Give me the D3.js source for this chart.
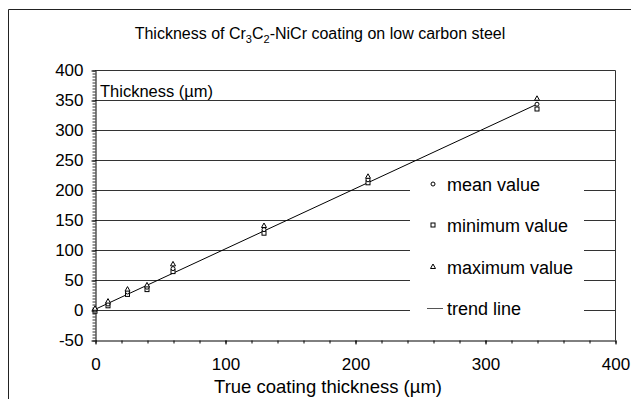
<!DOCTYPE html>
<html><head><meta charset="utf-8">
<script src="https://cdn.jsdelivr.net/npm/d3@7"></script>
<style>body{margin:0;background:#fff}svg{display:block}text{font-family:"Liberation Sans",Arial,sans-serif;fill:#000}</style>
</head><body>
<svg id="c" width="640" height="399"></svg>
<script>
const xTrue = [0, 10, 25, 40, 60, 130, 210, 340];
const meanVals = [0, 10, 30, 38, 69, 134, 217, 343];
const minVals = [-2, 7, 26, 34, 64, 128, 212, 335];
const maxVals = [2, 14, 34, 41, 76, 140, 222, 352];
const trendX = [0, 340];
const trendY = [1, 343];
const xTicks = [0, 100, 200, 300, 400];
const yTicks = [-50, 0, 50, 100, 150, 200, 250, 300, 350, 400];
const legendLabels = ["mean value", "minimum value", "maximum value", "trend line"];

const svg = d3.select("#c");
const x = d3.scaleLinear().domain([0, 400]).range([95, 615]);
const y = d3.scaleLinear().domain([-50, 400]).range([340, 70]);

// outer frame (top and left)
svg.append("path").attr("d", "M8.5,399 V9.5 H631").attr("fill", "none").attr("stroke", "#222").attr("stroke-width", 1);

// title
const t = svg.append("text").attr("x", 320).attr("y", 39).attr("text-anchor", "middle").style("font-size", "16px");
t.append("tspan").text("Thickness of Cr");
t.append("tspan").text("3").attr("dy", 4).style("font-size", "11px");
t.append("tspan").text("C").attr("dy", -4);
t.append("tspan").text("2").attr("dy", 4).style("font-size", "11px");
t.append("tspan").text("-NiCr coating on low carbon steel").attr("dy", -4);

// gridlines
svg.append("g").selectAll("line").data(yTicks.filter(v => v > -50 && v < 400)).join("line")
  .attr("x1", x(0)).attr("x2", x(400)).attr("y1", d => Math.round(y(d)) + 0.5).attr("y2", d => Math.round(y(d)) + 0.5)
  .attr("stroke", "#333").attr("stroke-width", 1);
// top & right frame of plot
svg.append("path").attr("d", `M${x(0)},${y(400)+0.5} H${x(400)+0.5} V${y(-50)}`).attr("fill", "none").attr("stroke", "#333");

// y axis
const minorY = d3.range(-50, 401, 5);
svg.append("g").attr("transform", `translate(${x(0)+0.5},0.5)`)
  .call(d3.axisLeft(y).tickValues(minorY).tickSize(3).tickFormat(""))
  .call(g => g.select(".domain").remove())
  .selectAll("line").attr("stroke", "#333");
const ya = svg.append("g").attr("transform", `translate(${x(0)+0.5},0.5)`)
  .call(d3.axisLeft(y).tickValues(yTicks).tickSize(4).tickSizeOuter(0).tickPadding(8).tickFormat(d => String(d)));
ya.select(".domain").attr("stroke", "#000");
ya.selectAll("text").style("font-size", "17px").attr("fill", "#000");

// x axis
const minorX = d3.range(0, 401, 20);
svg.append("g").attr("transform", `translate(0.5,${y(-50)+0.5})`)
  .call(d3.axisBottom(x).tickValues(minorX).tickSize(3).tickFormat(""))
  .call(g => g.select(".domain").remove());
const xa = svg.append("g").attr("transform", `translate(0.5,${y(-50)+0.5})`)
  .call(d3.axisBottom(x).tickValues(xTicks).tickSize(4).tickSizeOuter(0).tickPadding(13).tickFormat(d => String(d)));
xa.selectAll("text").style("font-size", "17px").attr("fill", "#000");

// axis labels
svg.append("text").attr("x", 100).attr("y", 97).style("font-size", "16.5px").text("Thickness (µm)");
svg.append("text").attr("x", 328).attr("y", 393).attr("text-anchor", "middle").style("font-size", "18.5px").text("True coating thickness (µm)");

// legend background
svg.append("rect").attr("x", 410).attr("y", 168).attr("width", 174).attr("height", 155).attr("fill", "#fff");

// trend line
svg.append("line").attr("x1", x(trendX[0])).attr("y1", y(trendY[0])).attr("x2", x(trendX[1])).attr("y2", y(trendY[1]))
  .attr("stroke", "#000").attr("stroke-width", 1);

// markers
const triPath = (cx, cy) => `M${cx},${cy-3} L${cx+2.5},${cy+1.5} L${cx-2.5},${cy+1.5} Z`;
const pts = d3.range(xTrue.length);
svg.append("g").selectAll("rect").data(pts).join("rect")
  .attr("x", i => x(xTrue[i]) - 2).attr("y", i => y(minVals[i]) - 2).attr("width", 4).attr("height", 4)
  .attr("fill", "#fff").attr("stroke", "#000").attr("stroke-width", 1);
svg.append("g").selectAll("circle").data(pts).join("circle")
  .attr("cx", i => x(xTrue[i])).attr("cy", i => y(meanVals[i])).attr("r", 2)
  .attr("fill", "#fff").attr("stroke", "#000").attr("stroke-width", 1);
svg.append("g").selectAll("path").data(pts).join("path")
  .attr("d", i => triPath(x(xTrue[i]), y(maxVals[i])))
  .attr("fill", "#fff").attr("stroke", "#000").attr("stroke-width", 1);

// legend
const ly = [184, 225, 267, 308];
const lg = svg.append("g");
lg.selectAll("text").data(legendLabels).join("text")
  .attr("x", 447).attr("y", (d, i) => ly[i] + 6.5).style("font-size", "18px").text(d => d);
lg.append("circle").attr("cx", 433).attr("cy", ly[0]).attr("r", 2).attr("fill", "#fff").attr("stroke", "#000");
lg.append("rect").attr("x", 431).attr("y", ly[1] - 2).attr("width", 4).attr("height", 4).attr("fill", "#fff").attr("stroke", "#000");
lg.append("path").attr("d", triPath(433, ly[2])).attr("fill", "#fff").attr("stroke", "#000");
lg.append("line").attr("x1", 427).attr("x2", 443).attr("y1", ly[3] + 0.5).attr("y2", ly[3] + 0.5).attr("stroke", "#555");
</script>
</body></html>
